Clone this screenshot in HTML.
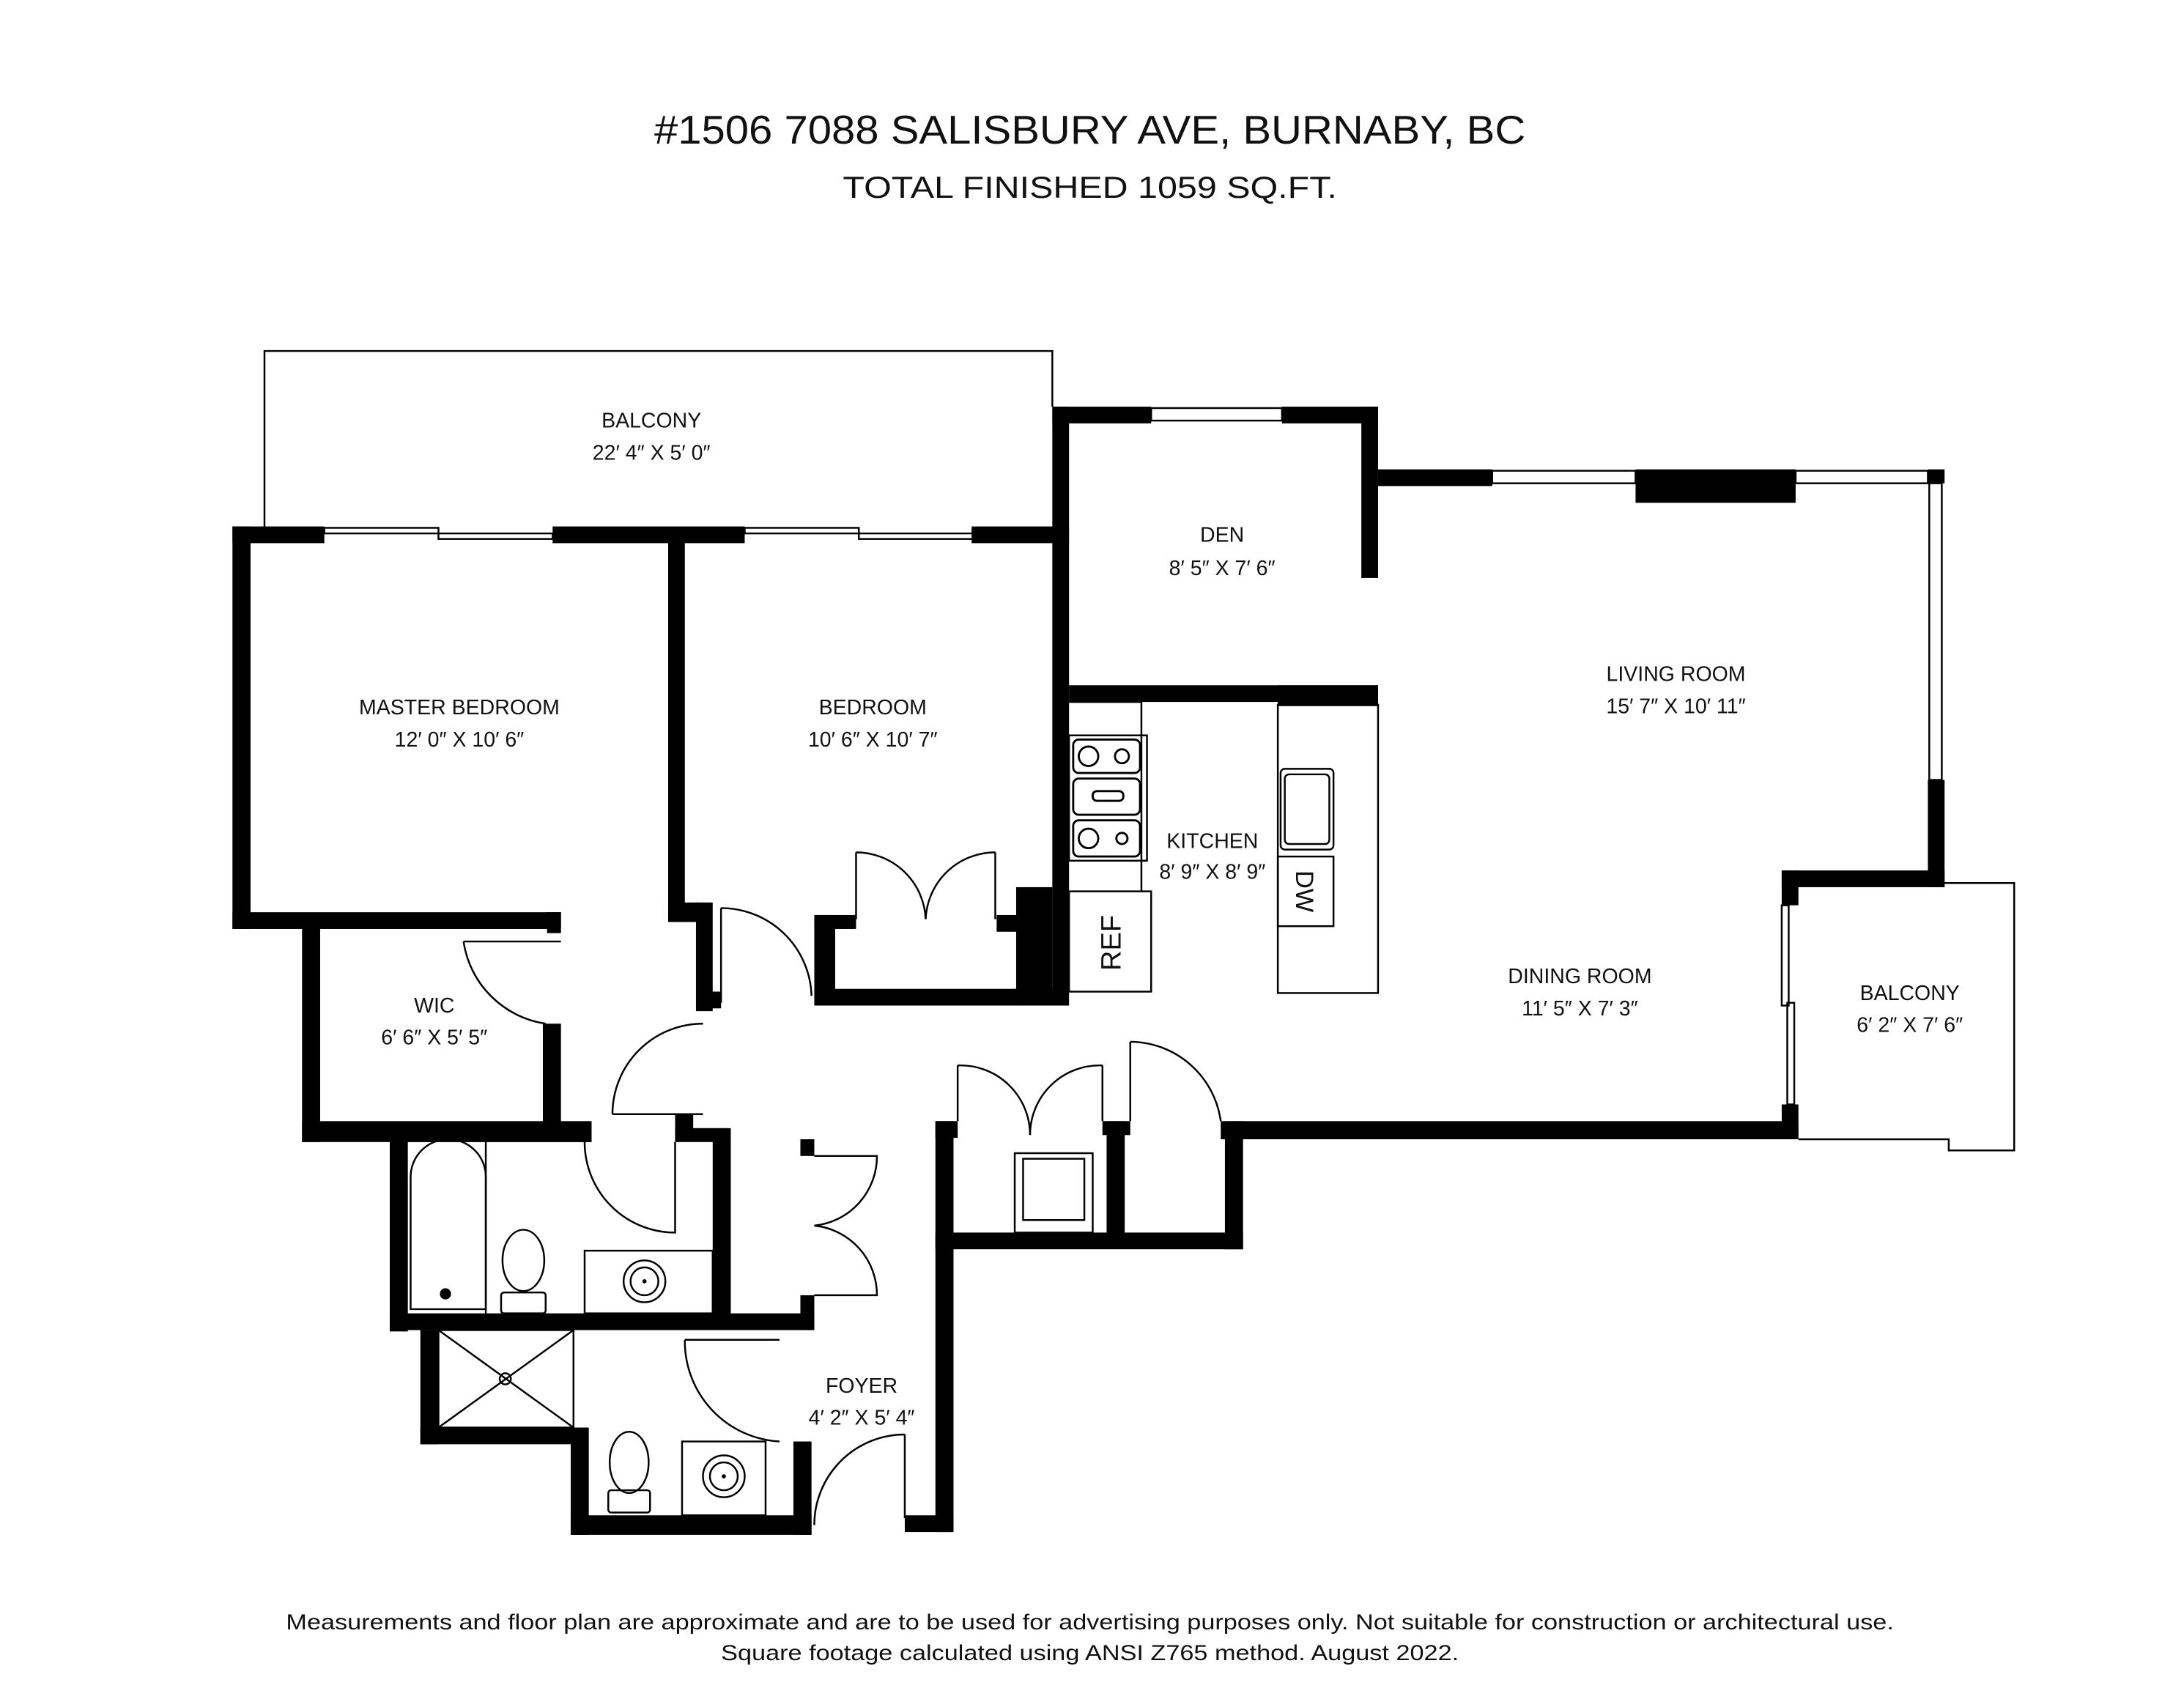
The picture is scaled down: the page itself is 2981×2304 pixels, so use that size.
<!DOCTYPE html>
<html><head><meta charset="utf-8"><style>
html,body{margin:0;padding:0;background:#fff;}
svg{display:block;}
text{font-family:"Liberation Sans",sans-serif;fill:#111;}
</style></head><body>
<svg width="2981" height="2304" viewBox="0 0 1569 1212" preserveAspectRatio="none" xmlns="http://www.w3.org/2000/svg">
<rect width="1569" height="1212" fill="#fff"/>
<text x="783" y="103" font-size="29" text-anchor="middle" textLength="626" lengthAdjust="spacingAndGlyphs">#1506 7088 SALISBURY AVE, BURNABY, BC</text>
<text x="783" y="142" font-size="22" text-anchor="middle" textLength="355" lengthAdjust="spacingAndGlyphs">TOTAL FINISHED  1059 SQ.FT.</text>

<g fill="none" stroke="#000" stroke-width="1.3">
<polyline points="190,378 190,252 756,252 756,292"/>
<polyline points="1292,634 1447,634 1447,826 1400,826 1400,818 1292,818"/>
<rect x="233" y="379" width="82" height="4"/><rect x="315" y="383" width="82" height="4"/>
<rect x="535" y="379" width="82" height="4"/><rect x="617" y="383" width="82" height="4"/>
<rect x="827" y="293" width="94" height="9"/>
<rect x="1072" y="338" width="103" height="9"/><rect x="1290" y="338" width="95" height="9"/>
<rect x="1386" y="347" width="9" height="213"/>
<rect x="1280" y="650" width="5" height="72"/><rect x="1284" y="720" width="5" height="73"/>
<polyline points="768,504 820,504 820,640"/>
<rect x="768" y="528" width="56" height="90"/>
<rect x="768" y="640" width="59" height="72"/>
<rect x="918" y="506" width="72" height="207"/>
<rect x="920" y="552" width="38" height="58" rx="3"/><rect x="923" y="556" width="32" height="50" rx="3"/>
<rect x="918" y="615" width="40" height="50"/>
<g stroke-width="1.5">
<rect x="771" y="531" width="48" height="24" rx="4"/><rect x="771" y="559" width="48" height="26" rx="4"/><rect x="771" y="589" width="48" height="26" rx="4"/>
<circle cx="782" cy="543" r="7"/><circle cx="806" cy="543" r="5"/><circle cx="782" cy="602" r="7"/><circle cx="806" cy="602" r="4"/>
<rect x="785" y="568" width="22" height="7" rx="3"/>
</g>
<path d="M333,676 L403,676 M333,676 A70,70 0 0 0 392,735"/>
<path d="M518,652 L518,720 M518,652 A65,65 0 0 1 583,715"/>
<path d="M615,612 L615,660 M615,612 A50,50 0 0 1 665,660 M715,612 L715,660 M715,612 A50,50 0 0 0 665,660"/>
<path d="M440,800 L505,800 M505,735 A65,65 0 0 0 440,800"/>
<path d="M420,820 A65,65 0 0 0 485,885 L485,820"/>
<path d="M585,830 L630,830 A50,50 0 0 1 585,880 A50,50 0 0 1 630,930 L585,930"/>
<path d="M688,765 L688,805 M688,765 A50,50 0 0 1 740,815 M792,765 L792,805 M792,765 A50,50 0 0 0 740,815"/>
<path d="M812,748 L812,805 M812,748 A66,66 0 0 1 877,805"/>
<path d="M492,962 L560,962 M492,962 A72,72 0 0 0 560,1035"/>
<path d="M650,1030 L650,1090 M650,1030 A65,65 0 0 0 585,1095"/>
<path d="M295,940 L295,845 A27,27 0 0 1 349,845 L349,940 Z"/>
<line x1="349" y1="820" x2="349" y2="945"/>
<rect x="420" y="898" width="92" height="45"/>
<circle cx="463" cy="920" r="15"/><circle cx="463" cy="920" r="10"/>
<ellipse cx="376" cy="905" rx="15" ry="22"/><rect x="360" y="928" width="32" height="15" rx="2"/>
<rect x="315" y="955" width="97" height="70"/><line x1="315" y1="955" x2="412" y2="1025"/><line x1="412" y1="955" x2="315" y2="1025"/><circle cx="363" cy="990" r="4"/>
<rect x="490" y="1035" width="60" height="53"/><circle cx="520" cy="1060" r="15"/><circle cx="520" cy="1060" r="10"/>
<ellipse cx="452" cy="1050" rx="14" ry="22"/><rect x="437" y="1070" width="30" height="16" rx="2"/>
<rect x="729" y="828" width="56" height="57"/><rect x="735" y="832" width="44" height="44"/>
</g>
<circle cx="320" cy="929" r="4" fill="#000"/>
<circle cx="463" cy="920" r="1.5" fill="#000"/><circle cx="520" cy="1060" r="1.5" fill="#000"/>

<g fill="#000">
<rect x="167" y="378" width="66" height="12"/><rect x="397" y="378" width="138" height="12"/><rect x="698" y="378" width="70" height="12"/>
<rect x="167" y="378" width="13" height="289"/>
<rect x="167" y="655" width="236" height="12"/><rect x="393" y="655" width="10" height="15"/>
<rect x="217" y="665" width="13" height="155"/><rect x="217" y="805" width="208" height="15"/>
<rect x="390" y="735" width="13" height="75"/>
<rect x="480" y="385" width="12" height="275"/><rect x="480" y="648" width="22" height="14"/><rect x="500" y="648" width="12" height="78"/><rect x="510" y="712" width="8" height="12"/>
<rect x="585" y="657" width="15" height="65"/><rect x="585" y="710" width="172" height="12"/><rect x="585" y="657" width="30" height="10"/><rect x="716" y="657" width="20" height="12"/>
<rect x="730" y="637" width="26" height="85"/>
<rect x="756" y="292" width="12" height="430"/>
<rect x="756" y="292" width="71" height="12"/><rect x="921" y="292" width="69" height="12"/><rect x="978" y="292" width="12" height="123"/>
<rect x="768" y="492" width="222" height="12"/><rect x="918" y="492" width="72" height="15"/>
<rect x="990" y="337" width="82" height="12"/><rect x="1175" y="337" width="115" height="24"/><rect x="1385" y="337" width="12" height="10"/>
<rect x="1385" y="560" width="12" height="77"/><rect x="1280" y="625" width="117" height="12"/><rect x="1280" y="625" width="12" height="25"/>
<rect x="1280" y="793" width="12" height="22"/>
<rect x="877" y="805" width="415" height="13"/><rect x="880" y="805" width="13" height="92"/>
<rect x="672" y="805" width="16" height="12"/><rect x="672" y="805" width="13" height="295"/>
<rect x="672" y="885" width="221" height="12"/><rect x="795" y="805" width="13" height="88"/><rect x="792" y="805" width="20" height="10"/>
<rect x="650" y="1088" width="35" height="12"/>
<rect x="280" y="810" width="145" height="10"/><rect x="280" y="810" width="13" height="146"/>
<rect x="280" y="943" width="305" height="12"/><rect x="485" y="810" width="40" height="10"/><rect x="485" y="800" width="13" height="18"/>
<rect x="512" y="818" width="13" height="128"/><rect x="575" y="818" width="10" height="12"/><rect x="575" y="930" width="10" height="25"/>
<rect x="302" y="955" width="13" height="82"/><rect x="302" y="1025" width="110" height="12"/>
<rect x="410" y="1025" width="13" height="77"/><rect x="410" y="1088" width="173" height="14"/><rect x="570" y="1035" width="13" height="67"/>
</g>

<g font-size="15" text-anchor="middle">
<text x="468" y="307">BALCONY</text><text x="468" y="330">22′ 4″ X 5′ 0″</text>
<text x="878" y="389">DEN</text><text x="878" y="413">8′ 5″ X 7′ 6″</text>
<text x="330" y="513">MASTER BEDROOM</text><text x="330" y="536">12′ 0″ X 10′ 6″</text>
<text x="627" y="513">BEDROOM</text><text x="627" y="536">10′ 6″ X 10′ 7″</text>
<text x="1204" y="489">LIVING ROOM</text><text x="1204" y="512">15′ 7″ X 10′ 11″</text>
<text x="871" y="609">KITCHEN</text><text x="871" y="631">8′ 9″ X 8′ 9″</text>
<text x="1135" y="706">DINING ROOM</text><text x="1135" y="729">11′ 5″ X 7′ 3″</text>
<text x="1372" y="718">BALCONY</text><text x="1372" y="741">6′ 2″ X 7′ 6″</text>
<text x="312" y="727">WIC</text><text x="312" y="750">6′ 6″ X 5′ 5″</text>
<text x="619" y="1000">FOYER</text><text x="619" y="1023">4′ 2″ X 5′ 4″</text>
</g>
<text x="0" y="0" font-size="20" text-anchor="middle" transform="translate(805,677) rotate(-90)">REF</text>
<text x="0" y="0" font-size="18" text-anchor="middle" transform="translate(931,640) rotate(90)">DW</text>

<text x="783" y="1170" font-size="15.5" text-anchor="middle" textLength="1155" lengthAdjust="spacingAndGlyphs">Measurements and floor plan are approximate and are to be used for advertising purposes only. Not suitable for construction or architectural use.</text>
<text x="783" y="1192" font-size="15.5" text-anchor="middle" textLength="530" lengthAdjust="spacingAndGlyphs">Square footage calculated using ANSI Z765 method. August 2022.</text>
</svg>
</body></html>
